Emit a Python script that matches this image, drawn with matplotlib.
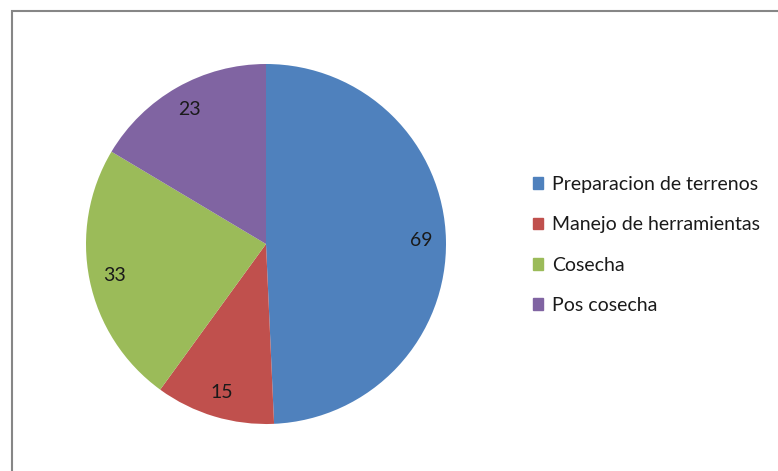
import matplotlib.pyplot as plt
from matplotlib.patches import Rectangle, Patch

categorias = ['Preparacion de terrenos', 'Manejo de herramientas', 'Cosecha', 'Pos cosecha']
valores = [69, 15, 33, 23]
colores = ['#4F81BD', '#C0504D', '#9BBB59', '#8064A2']

plt.rcParams['font.family'] = ['Lato', 'DejaVu Sans']

fig = plt.figure(figsize=(7.78, 4.71), dpi=100)

# marco gris del grafico
fig.patches.append(Rectangle((12 / 778, -0.05), 1.0, (471 - 10.5) / 471 + 0.05,
                             transform=fig.transFigure, fill=False,
                             edgecolor='#868686', linewidth=1.5))

ax = fig.add_axes([(266 - 180) / 778, (471 - 244 - 180) / 471, 360 / 778, 360 / 471])
wedges, textos = ax.pie(valores, colors=colores, startangle=90, counterclock=False,
                        labels=[str(v) for v in valores], labeldistance=0.86,
                        textprops={'fontsize': 14, 'color': '#1a1a1a'})
for t in textos:
    t.set_horizontalalignment('center')
    t.set_verticalalignment('center')
ax.set_xlim(-1, 1)
ax.set_ylim(-1, 1)
ax.set_aspect('equal')

handles = [Patch(facecolor=c, edgecolor=c) for c in colores]
fig.legend(handles, categorias, loc='center left', bbox_to_anchor=(515 / 778, (471 - 245) / 471),
           frameon=False, fontsize=14, handlelength=0.55, handleheight=0.55,
           handletextpad=0.45, labelspacing=1.2, labelcolor='#1a1a1a')

fig.savefig('out.png', dpi=100)
